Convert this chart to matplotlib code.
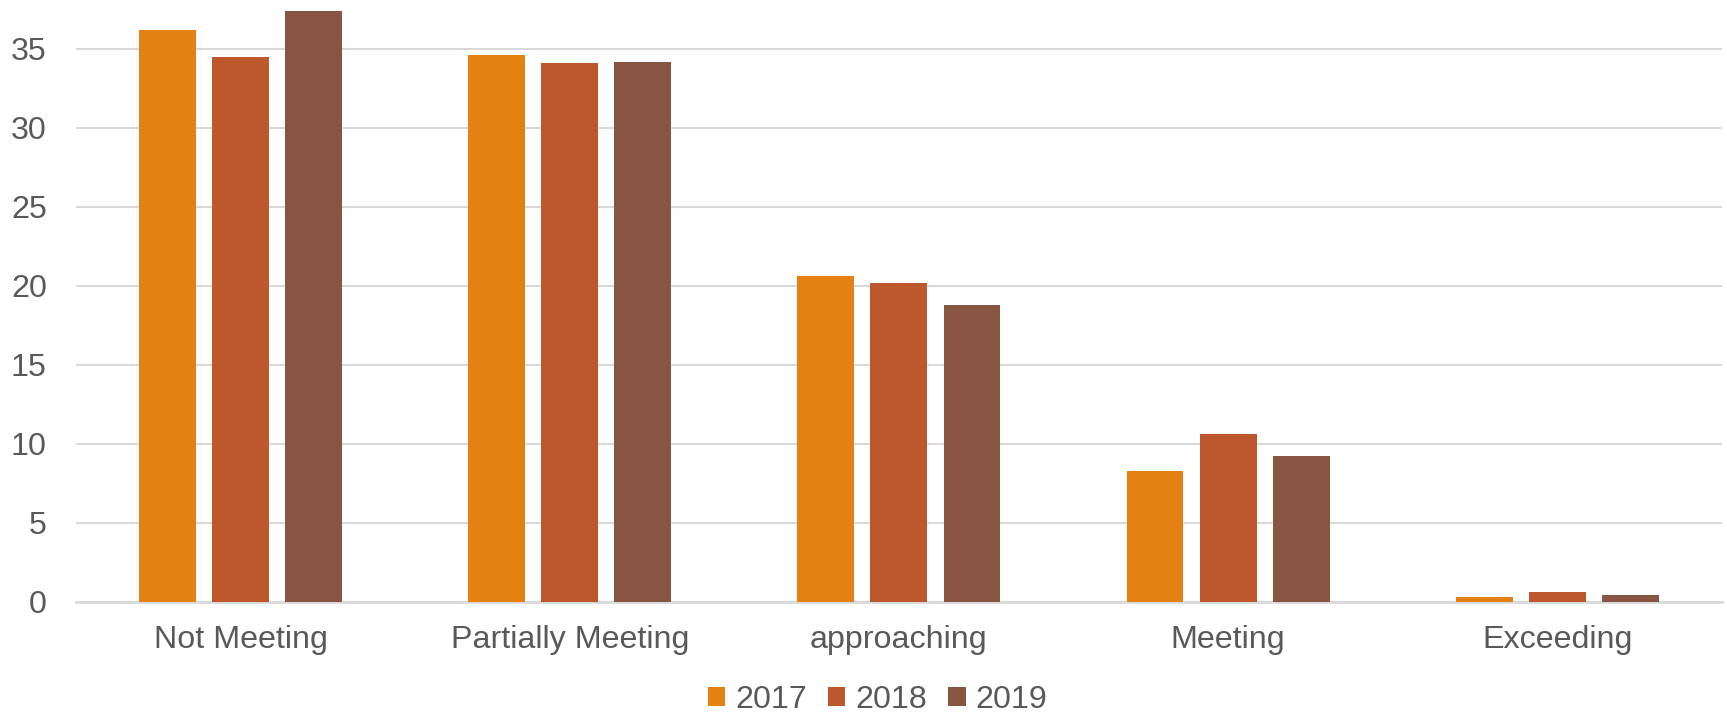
import matplotlib
matplotlib.use("Agg")
import matplotlib.pyplot as plt
import numpy as np
from matplotlib.patches import Patch

categories = ["Not Meeting", "Partially Meeting", "approaching", "Meeting", "Exceeding"]
years = ["2017", "2018", "2019"]
values_2017 = [36.2, 34.6, 20.6, 8.3, 0.3]
values_2018 = [34.5, 34.1, 20.2, 10.6, 0.6]
values_2019 = [37.4, 34.2, 18.8, 9.2, 0.4]
colors = ["#E38213", "#BC582C", "#875541"]

plt.rcParams["font.family"] = ["Liberation Sans", "DejaVu Sans"]
text_color = "#595959"
fs = 23.2

fig = plt.figure(figsize=(17.27, 7.14), dpi=100)
ax = fig.add_axes([0.044, 0.1573, 0.953, 0.8427])

x = np.arange(len(categories))
width = 0.173
step = 0.222
for i, (vals, col) in enumerate(zip([values_2017, values_2018, values_2019], colors)):
    ax.bar(x + (i - 1) * step, vals, width, color=col, zorder=3)

ax.set_xlim(-0.5, len(categories) - 0.5)
ax.set_ylim(0, 38.1)
ax.set_yticks(range(0, 36, 5))
ax.set_xticks(x)
ax.set_xticklabels(categories)
ax.yaxis.grid(True, color="#d9d9d9", linewidth=1.5, zorder=0)
ax.set_axisbelow(True)
for s in ["top", "right", "left"]:
    ax.spines[s].set_visible(False)
ax.spines["bottom"].set_color("#d9d9d9")
ax.spines["bottom"].set_linewidth(2)
ax.tick_params(axis="both", length=0, labelsize=fs, labelcolor=text_color)
ax.tick_params(axis="x", pad=17)
ax.tick_params(axis="y", pad=21)

handles = [Patch(facecolor=c, edgecolor="none") for c in colors]
fig.legend(handles, years, loc="center", bbox_to_anchor=(0.508, 0.02),
           ncol=3, frameon=False, fontsize=fs, labelcolor=text_color,
           handlelength=0.55, handleheight=0.55, handletextpad=0.3,
           columnspacing=0.65, borderpad=0)

fig.savefig("out.png", dpi=100)
